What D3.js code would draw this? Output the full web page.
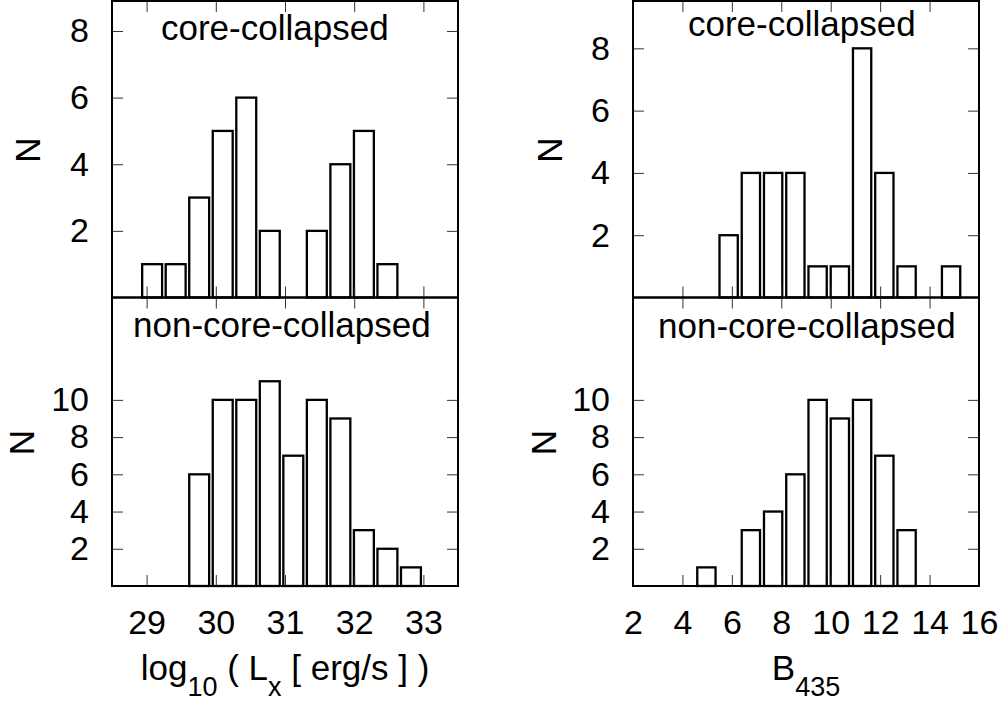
<!DOCTYPE html>
<html>
<head>
<meta charset="utf-8">
<script src="https://cdn.jsdelivr.net/npm/d3@7"></script>
<style>
  html, body { margin: 0; padding: 0; background: #fff; }
  svg { display: block; }
  text { font-family: "Liberation Sans", Arial, Helvetica, sans-serif; fill: #000; }
</style>
</head>
<body>
<svg id="chart" width="1005" height="704"></svg>
<script>
// ---- data ----
const lxBins = [29.08, 29.42, 29.76, 30.10, 30.44, 30.78, 31.12, 31.46, 31.80, 32.14, 32.48, 32.82];
const lxCoreCollapsed = [1, 1, 3, 5, 6, 2, 0, 2, 4, 5, 1, 0];
const lxNonCoreCollapsed = [0, 0, 6, 10, 10, 11, 7, 10, 9, 3, 2, 1];

const bBins = [4.97, 5.87, 6.77, 7.67, 8.57, 9.47, 10.37, 11.27, 12.17, 13.07, 13.97, 14.87];
const bCoreCollapsed = [0, 2, 4, 4, 4, 1, 1, 8, 4, 1, 0, 1];
const bNonCoreCollapsed = [1, 0, 3, 4, 6, 10, 9, 10, 7, 3, 0, 0];

const lxTicks = [29, 30, 31, 32, 33];
const bTicks = [2, 4, 6, 8, 10, 12, 14, 16];
const topYTicks = [2, 4, 6, 8];
const bottomYTicks = [2, 4, 6, 8, 10];

const panelTitles = ["core-collapsed", "non-core-collapsed"];
const yLabel = "N";

// ---- layout ----
const svg = d3.select("#chart");
const colL = { x0: 112, x1: 458 };
const colR = { x0: 633, x1: 979 };
const rowT = { y0: 1, y1: 297.5 };
const rowB = { y0: 297.5, y1: 586 };
const TICK = 11;
const FS_TICK = 34, FS_LAB = 35;

const xL = d3.scaleLinear().domain([28.5, 33.5]).range([colL.x0, colL.x1]);
const xR = d3.scaleLinear().domain([2, 16]).range([colR.x0, colR.x1]);
const yTL = d3.scaleLinear().domain([0, 8.9]).range([rowT.y1, rowT.y0]);
const yTR = d3.scaleLinear().domain([0, 9.52]).range([rowT.y1, rowT.y0]);
const yB = d3.scaleLinear().domain([0, 15.5]).range([rowB.y1, rowB.y0]);

const panels = [
  { x: xL, y: yTL, col: colL, row: rowT, bins: lxBins, vals: lxCoreCollapsed, barW: 0.288, xt: lxTicks, yt: topYTicks, title: panelTitles[0], tx: 161, ty: 40, bottomLabels: false, nPos: [27, 150] },
  { x: xL, y: yB, col: colL, row: rowB, bins: lxBins, vals: lxNonCoreCollapsed, barW: 0.288, xt: lxTicks, yt: bottomYTicks, title: panelTitles[1], tx: 133, ty: 337, bottomLabels: true, nPos: [21, 442.5] },
  { x: xR, y: yTR, col: colR, row: rowT, bins: bBins, vals: bCoreCollapsed, barW: 0.74, xt: bTicks, yt: topYTicks, title: panelTitles[0], tx: 688, ty: 36, bottomLabels: false, nPos: [549.5, 150] },
  { x: xR, y: yB, col: colR, row: rowB, bins: bBins, vals: bNonCoreCollapsed, barW: 0.74, xt: bTicks, yt: bottomYTicks, title: panelTitles[1], tx: 658, ty: 338, bottomLabels: true, nPos: [543, 442.5] }
];

panels.forEach(p => {
  const g = svg.append("g");
  const data = p.bins.map((b, i) => ({ b, v: p.vals[i] })).filter(d => d.v > 0);

  // bars
  g.selectAll("rect.bar").data(data).enter().append("rect")
    .attr("class", "bar")
    .attr("x", d => p.x(d.b - p.barW / 2))
    .attr("width", d => p.x(d.b + p.barW / 2) - p.x(d.b - p.barW / 2))
    .attr("y", d => p.y(d.v))
    .attr("height", d => p.y(0) - p.y(d.v))
    .attr("fill", "#fff")
    .attr("stroke", "#000")
    .attr("stroke-width", 2.3);

  const innerTicks = p.xt.filter(t => p.x(t) > p.col.x0 + 1 && p.x(t) < p.col.x1 - 1);

  // left axis with labels
  const ax = g.append("g").attr("transform", `translate(${p.col.x0},0)`)
    .call(d3.axisLeft(p.y).tickValues(p.yt).tickSize(-TICK).tickPadding(23).tickFormat(d3.format("d")));
  // right axis
  const ar = g.append("g").attr("transform", `translate(${p.col.x1},0)`)
    .call(d3.axisRight(p.y).tickValues(p.yt).tickSize(-TICK).tickFormat(""));
  // top axis
  const at = g.append("g").attr("transform", `translate(0,${p.row.y0})`)
    .call(d3.axisTop(p.x).tickValues(innerTicks).tickSize(-TICK).tickFormat(""));
  // bottom axis
  const ab = g.append("g").attr("transform", `translate(0,${p.row.y1})`)
    .call(d3.axisBottom(p.x).tickValues(p.bottomLabels ? p.xt : innerTicks).tickSize(-TICK).tickPadding(24).tickFormat(p.bottomLabels ? d3.format("d") : ""));

  [ax, ar, at, ab].forEach(a => {
    a.select(".domain").remove();
    a.selectAll(".tick line").attr("stroke", "#333").attr("stroke-width", 1);
    a.selectAll(".tick text").attr("font-size", FS_TICK).attr("font-family", "Liberation Sans, Arial, sans-serif").attr("fill", "#000");
  });
  // hide tick lines that sit exactly on a frame edge
  ab.selectAll(".tick").filter(d => !(p.x(d) > p.col.x0 + 1 && p.x(d) < p.col.x1 - 1)).select("line").remove();

  // frame
  g.append("rect")
    .attr("x", p.col.x0).attr("y", p.row.y0)
    .attr("width", p.col.x1 - p.col.x0).attr("height", p.row.y1 - p.row.y0)
    .attr("fill", "none").attr("stroke", "#000").attr("stroke-width", 2);

  // title
  g.append("text").attr("x", p.tx).attr("y", p.ty)
    .attr("font-size", FS_LAB).text(p.title);

  // N label
  g.append("text")
    .attr("transform", `translate(${p.nPos[0]},${p.nPos[1]}) rotate(-90)`)
    .attr("y", 0.358 * FS_LAB)
    .attr("text-anchor", "middle")
    .attr("font-size", FS_LAB).text(yLabel);
});

// x-axis titles
const t1 = svg.append("text").attr("x", 285).attr("y", 680).attr("text-anchor", "middle").attr("font-size", FS_LAB);
t1.append("tspan").text("log");
t1.append("tspan").attr("font-size", 27).attr("dy", 16).text("10");
t1.append("tspan").attr("dy", -16).text(" ( L");
t1.append("tspan").attr("font-size", 27).attr("dy", 16).text("x");
t1.append("tspan").attr("dy", -16).text(" [ erg/s ] )");

const t2 = svg.append("text").attr("x", 806).attr("y", 680).attr("text-anchor", "middle").attr("font-size", FS_LAB);
t2.append("tspan").text("B");
t2.append("tspan").attr("font-size", 27).attr("dy", 16).text("435");
</script>
</body>
</html>
